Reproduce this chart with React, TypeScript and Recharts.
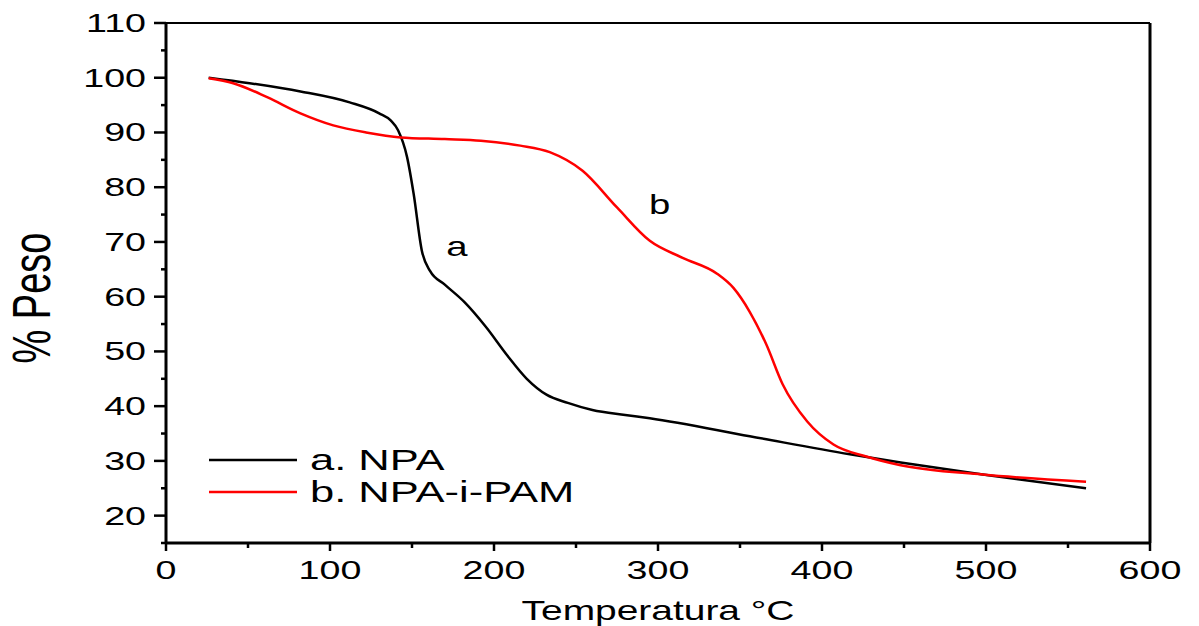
import React from 'react';
import { LineChart, Line, XAxis, YAxis, ReferenceLine, ReferenceDot, Legend, Label } from 'recharts';

// curve a: NPA
const tempA = [26, 51, 82, 112, 130, 137, 141.5, 147, 151, 156, 161, 170, 182, 195, 208, 220, 232, 245, 260, 280, 295, 356, 417, 448, 498, 561];
const pesoA = [100, 99, 97.5, 95.5, 93.5, 92.2, 90.4, 85.5, 78.8, 68.4, 64.7, 62.2, 59, 54.5, 49.3, 45, 42.1, 40.6, 39.3, 38.4, 37.8, 34.5, 31.2, 29.7, 27.5, 25];

// curve b: NPA-i-PAM
const tempB = [26, 41, 62, 82, 102, 122, 143, 170, 192, 216, 234, 254, 275, 295, 315, 336, 346, 356, 366, 376, 391, 407, 427, 448, 498, 561];
const pesoB = [99.9, 99, 96.4, 93.5, 91.3, 90, 89.1, 88.8, 88.5, 87.6, 86.4, 83, 76.3, 70.2, 67.1, 64.2, 61.6, 57.2, 51.3, 44, 37.2, 33, 30.8, 29.2, 27.5, 26.2];

const xTicks = [0, 50, 100, 150, 200, 250, 300, 350, 400, 450, 500, 550, 600];
const yTicks = [15, 20, 25, 30, 35, 40, 45, 50, 55, 60, 65, 70, 75, 80, 85, 90, 95, 100, 105, 110];

const dataA = tempA.map((t, i) => ({ t, peso: pesoA[i] }));
const dataB = tempB.map((t, i) => ({ t, peso: pesoB[i] }));

const FONT = '"Liberation Sans", Arial, sans-serif';
const SX = 1.42; // the original figure is stretched sideways

const YTick = (props: any) => {
  const { x, y, payload } = props;
  const major = payload.value % 10 === 0;
  return (
    <g>
      <line x1={x} x2={x - (major ? 12 : 5)} y1={y} y2={y} stroke="#000" strokeWidth={2.5} />
      {major && payload.value >= 20 && (
        <text transform={`translate(${x - 20},${y}) scale(${SX},1)`} textAnchor="end" dominantBaseline="central"
          fontFamily={FONT} fontSize={26.5} fill="#000">{payload.value}</text>
      )}
    </g>
  );
};

const XTick = (props: any) => {
  const { x, y, payload } = props;
  const major = payload.value % 100 === 0;
  return (
    <g>
      <line x1={x} x2={x} y1={y} y2={y + (major ? 8 : 5)} stroke="#000" strokeWidth={2.5} />
      {major && (
        <text transform={`translate(${x},${y + 36}) scale(${SX},1)`} textAnchor="middle"
          fontFamily={FONT} fontSize={26.5} fill="#000">{payload.value}</text>
      )}
    </g>
  );
};

const LegendBox = (props: any) => (
  <div>
    {props.payload.map((p: any) => (
      <div key={p.value} style={{ display: 'flex', alignItems: 'center', height: 32 }}>
        <svg width={88} height={4}><line x1={0} x2={88} y1={2} y2={2} stroke={p.color} strokeWidth={2.5} /></svg>
        <span style={{ marginLeft: 13, fontFamily: FONT, fontSize: 30, lineHeight: '32px', color: '#000',
          display: 'inline-block', transform: 'scaleX(1.45)', transformOrigin: 'left center', whiteSpace: 'nowrap' }}>{p.value}</span>
      </div>
    ))}
  </div>
);

const tagLabel = (txt: string) => (props: any) => {
  const { viewBox } = props;
  const cx = viewBox.x + (viewBox.width || 0) / 2;
  const cy = viewBox.y + (viewBox.height || 0) / 2;
  return (
    <text transform={`translate(${cx},${cy}) scale(${SX},1)`} textAnchor="middle" dominantBaseline="central"
      fontFamily={FONT} fontSize={27} fill="#000">{txt}</text>
  );
};

export default function App() {
  return (
    <div style={{ position: 'absolute', left: 0, top: 0, background: '#fff' }}>
      <LineChart width={1199} height={626} margin={{ top: 23, right: 49, left: 0, bottom: 0 }}>
        <XAxis dataKey="t" type="number" domain={[0, 600]} ticks={xTicks} interval={0} height={83}
          axisLine={{ stroke: '#000', strokeWidth: 3 }} tickLine={false} tickSize={0} tickMargin={0} tick={<XTick />}>
          <Label content={() => (
            <text transform={`translate(658,620) scale(1.39,1)`} textAnchor="middle" fontFamily={FONT} fontSize={28} fill="#000">
              Temperatura °C
            </text>
          )} />
        </XAxis>
        <YAxis type="number" domain={[15, 110]} ticks={yTicks} interval={0} width={166}
          axisLine={{ stroke: '#000', strokeWidth: 3 }} tickLine={false} tickSize={0} tickMargin={0} tick={<YTick />}>
          <Label content={() => (
            <text transform={`translate(50,298) rotate(-90) scale(1,1.4)`} textAnchor="middle" fontFamily={FONT} fontSize={38} fill="#000">
              % Peso
            </text>
          )} />
        </YAxis>
        <ReferenceLine y={110} stroke="#000" strokeWidth={2} />
        <ReferenceLine x={600} stroke="#000" strokeWidth={3} />
        <Legend layout="vertical" align="center" verticalAlign="middle" content={<LegendBox />}
          wrapperStyle={{ left: 209, top: 444, width: 'auto', height: 'auto' }} />
        <Line data={dataA} dataKey="peso" name="a. NPA" type="monotone" stroke="#000" strokeWidth={2.5} dot={false} isAnimationActive={false} />
        <Line data={dataB} dataKey="peso" name="b. NPA-i-PAM" type="monotone" stroke="#ff0000" strokeWidth={2.5} dot={false} isAnimationActive={false} />
        <ReferenceDot x={177.4} y={69.1} r={0} stroke="none" label={tagLabel('a')} />
        <ReferenceDot x={301} y={76.8} r={0} stroke="none" label={tagLabel('b')} />
      </LineChart>
    </div>
  );
}
